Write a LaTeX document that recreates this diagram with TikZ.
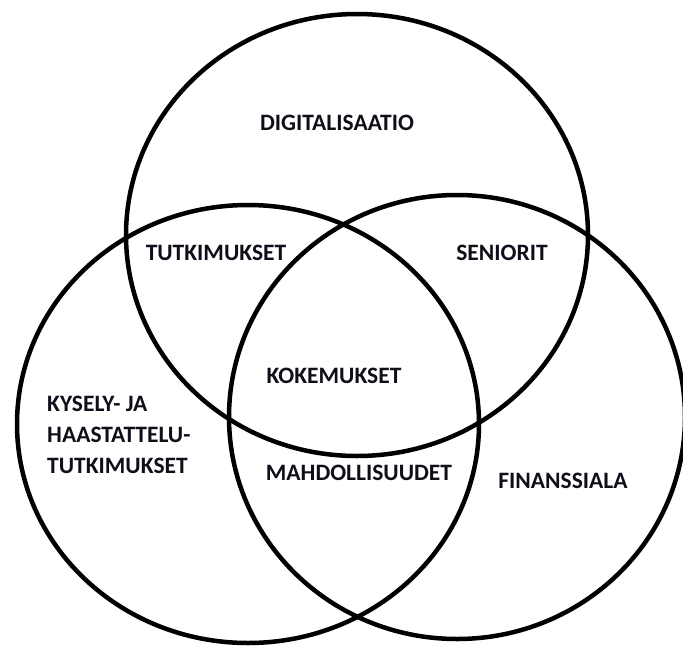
\documentclass[tikz,border=0pt]{standalone}
\usepackage{fontspec}
\setmainfont{Carlito}
\usetikzlibrary{positioning}
\definecolor{viiva}{RGB}{0,0,0}
\definecolor{teksti}{RGB}{15,15,25}

\begin{document}
\begin{tikzpicture}[
    x=1pt, y=-1pt,
    ympyra/.style={draw=viiva, line width=4.5pt},
    nimi/.style={font=\fontsize{23.5}{31}\selectfont\bfseries, text=teksti, inner sep=0pt}
]

\useasboundingbox (0,0) rectangle (683,646);

% Ympyrat
\draw[ympyra] (357,235) ellipse [x radius=231, y radius=221];
\draw[ympyra] (248,424) ellipse [x radius=231, y radius=219];
\draw[ympyra] (457,417) ellipse [x radius=228, y radius=222];

% Tekstit
\node[nimi] (digi) at (337,123) {DIGITALISAATIO};
\node[nimi] (tutk) at (216,253) {TUTKIMUKSET};
\node[nimi] (seni) at (502,253) {SENIORIT};
\node[nimi] (koke) at (334,376) {KOKEMUKSET};
\node[nimi, align=left, anchor=west] (kysely) at (47,435) {KYSELY- JA\\HAASTATTELU-\\TUTKIMUKSET};
\node[nimi] (mahd) at (359,473) {MAHDOLLISUUDET};
\node[nimi] (finans) at (563,481) {FINANSSIALA};

\end{tikzpicture}
\end{document}
